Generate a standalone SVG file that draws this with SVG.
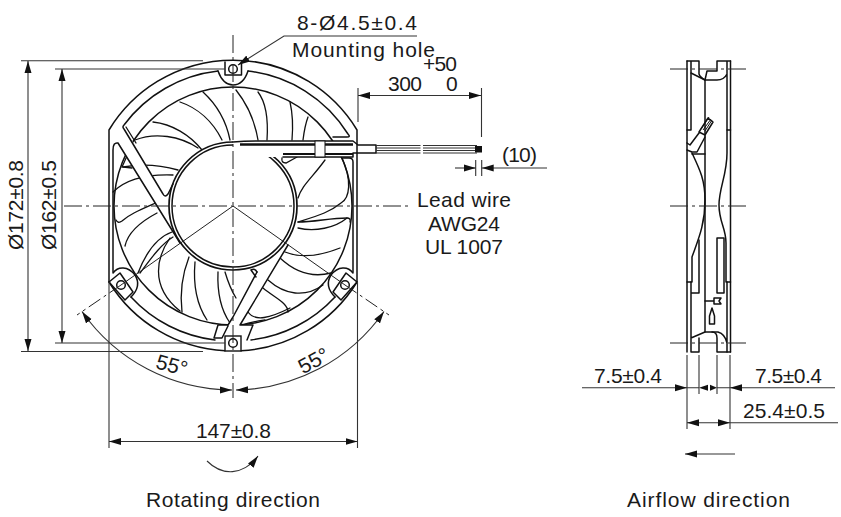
<svg xmlns="http://www.w3.org/2000/svg" width="841" height="517" viewBox="0 0 841 517">
<style>
text{font-family:"Liberation Sans",Arial,sans-serif;font-size:21px;fill:#1a1a1a}
.m{text-anchor:middle}
.o{fill:none;stroke:#111;stroke-width:1.5;stroke-linejoin:round;stroke-linecap:round}
.b{fill:none;stroke:#111;stroke-width:1.3;stroke-linecap:round}
.w{fill:#fff;stroke:none}
.t{fill:none;stroke:#222;stroke-width:1}
.d{fill:none;stroke:#333;stroke-width:1.1}
.c{fill:none;stroke:#222;stroke-width:1;stroke-dasharray:18 4 3 4}
.a{fill:none;stroke:#333;stroke-width:1.1;marker-end:url(#ah)}
.aa{fill:none;stroke:#333;stroke-width:1.1;marker-start:url(#ah);marker-end:url(#ah)}
.h{fill:#111;stroke:none}
</style>
<defs>
<marker id="ah" markerUnits="userSpaceOnUse" markerWidth="12" markerHeight="8" refX="12" refY="4" orient="auto-start-reverse"><path d="M0,0.500L12,4L0,7.500z" fill="#111"/></marker>
</defs>
<g id="front-view">
<circle cx="233" cy="206" r="119" class="o"/>
<g id="blades">
<path class="b" d="M203,92C215,103 226,120 230,140"/>
<path class="b" d="M236,90C248,105 255,122 258,140"/>
<path class="b" d="M258,92C268,105 268,125 267,140"/>
<path class="b" d="M290,102C293,115 293,128 292,140"/>
<path class="b" d="M308,117C305,125 304,132 303,140"/>
<path class="b" d="M153,122C172,124 190,135 202,150"/>
<path class="b" d="M180,102C198,108 213,122 222,140"/>
<path class="b" d="M135,140C155,132 180,136 198,148"/>
<path class="b" d="M127,156L122,167L132,168"/>
<path class="b" d="M123,167C140,164 160,165 178,170"/>
<path class="b" d="M113,192C125,180 145,174 173,175"/>
<path class="b" d="M116,220Q118,224 122,221C130,214 140,210 158,202"/>
<path class="b" d="M157,213C140,222 128,232 125,246"/>
<path class="b" d="M172,232C155,238 145,255 138,273"/>
<path class="b" d="M173,237C160,245 150,260 140,273"/>
<path class="b" d="M170,238C158,255 148,285 180,311"/>
<path class="b" d="M189,257C182,275 180,295 182,312"/>
<path class="b" d="M195,262C193,285 197,305 207,320"/>
<path class="b" d="M218,272C217,295 221,310 230,323"/>
<path class="b" d="M225,272C228,282 231,290 236,298"/>
<path class="b" d="M282,158Q281,163 286,163L297,157"/>
<path class="b" d="M325,160C312,178 302,185 298,198"/>
<path class="b" d="M342,158C352,180 350,198 341,203C330,212 320,215 298,222"/>
<path class="b" d="M298,222C315,222 330,218 347,218Q351,218 350,222"/>
<path class="b" d="M298,228C315,232 335,228 347,218"/>
<path class="b" d="M285,252C300,258 320,256 340,248"/>
<path class="b" d="M280,258C295,272 312,278 331,273"/>
<path class="b" d="M268,280C285,295 305,298 323,285"/>
<path class="b" d="M263,288C275,298 288,303 288,312"/>
<path class="b" d="M248,312C255,322 270,318 290,308"/>
<path class="b" d="M242,325C250,322 258,321 265,320"/>
</g>
<path class="w" d="M124,127L165,197L173,184L190,200L180,243L118,143z"/>
<path class="w" d="M257,272L233,317L228,325H218L214,338H252L253,325H240L288,245z"/>
<circle cx="233" cy="206" r="64" fill="#fff" stroke="#111" stroke-width="1.700"/>
<circle cx="233" cy="206" r="61" class="o"/>
<path class="o" d="M218,71A136,136 0 0 0 124,125Q122,127 124,129L163,194Q165,198 168,194L173,184"/>
<path class="b" d="M126,127L136,143"/>
<path class="o" d="M113,272V150Q113,142 118,143L180,243"/>
<path class="o" d="M109,282V130A145,145 0 0 1 357,130V282"/>
<path class="o" d="M353,162Q353,158 349,158H343M353,162V272"/>
<path class="o" d="M109,282A145,145 0 0 0 225,350.800M241,350.800A145,145 0 0 0 357,282"/>
<path class="o" d="M131,297A136,136 0 0 0 215,340M251,340A136,136 0 0 0 335,297"/>
<path class="o" d="M248,71A136,136 0 0 1 348,134Q351,137 347,137H333"/>
<path class="o" d="M257,272L233,317L228,325H218L214,338H222L228,326"/>
<path class="o" d="M257,272Q255,268 251,270L256,277"/>
<path class="o" d="M288,245L240,325H253L247,340"/>
</g>
<g id="hole-top">
<path class="o" fill="#fff" d="M218,71C222,82 228,85 233,85C240,85 245,80 248,71"/>
<path class="o" d="M225,75V62M241.500,75V62M225,75H241.500"/>
<circle cx="233" cy="69" r="4.300" class="o"/>
</g>
<g id="hole-bottom">
<rect x="225" y="336" width="16" height="15" fill="#fff" stroke="#111" stroke-width="1.400"/>
<circle cx="233" cy="343" r="4.300" class="o"/>
</g>
<g id="hole-left">
<path class="o" fill="#fff" d="M113,273C118,266 128,266 135,275C140,283 138,290 131,297"/>
<path class="o" fill="#fff" d="M109,282L125,300L133,292L120,273z"/>
<circle cx="121" cy="285" r="4.300" class="o"/>
</g>
<g id="hole-right">
<path class="o" fill="#fff" d="M353,273C348,266 338,266 331,275C326,283 328,290 335,297"/>
<path class="o" fill="#fff" d="M357,282L341,300L333,292L346,273z"/>
<circle cx="345" cy="285" r="4.300" class="o"/>
</g>
<g id="wire-channel">
<rect x="233" y="141" width="120" height="16" class="w"/>
<path class="o" d="M233,142Q245,141 260,141H353L358,145H376V153H353L353,157H283"/>
<path d="M240,144.500H353" stroke="#111" stroke-width="2.500"/>
<path d="M283,154H353" stroke="#111" stroke-width="2"/>
<rect x="315" y="141" width="10" height="16" fill="#fff" stroke="#111"/>
</g>
<g id="wire">
<path d="M376,145.500H420.500M423,145.500H477M376,148H420.500M423,148H477M376,150.500H420.500M423,150.500H477M376,153H420.500M423,153H477" stroke="#333" stroke-width="1.200"/>
<rect x="475" y="146" width="7" height="6.500" fill="#111"/>
</g>
<g id="side-view">
<path class="o" d="M687,61V352M730.500,61V352"/>
<path class="o" d="M687,61H699V74Q700,77 705,80M717,61H730.500M717,61V71H707L705,80H717Q724,80 727,74M691,61V130M727,61V130M687,130H691M727,130H730.500"/>
<path class="o" d="M705,80V332"/>
<path class="o" d="M691,73L705,80"/>
<path class="o" d="M727,130V153C727,175 719,188 719,205C719,222 726,228 726,243V282H730.500"/>
<path class="o" d="M692,153C700,170 705,180 705,200C705,225 698,240 692,257V282H687"/>
<path class="o" d="M699,240V293H691M717,238H724V293H717V238M691,282V352H699V338M717,352H730.500M717,352V338C717,334 716,332 712,332H705L691,338"/>
<path class="o" d="M712,332H718Q725,334 727,343V282M727,343V352"/>
<path class="o" d="M687,143L690,145L699,133M687,150L692,152H697L705,137M692,154H705M699,132L705,135M708,118L713,122L705,135L699,132z"/>
<path d="M701,129L709,117M703,130L711,119M705,131L712,120" stroke="#111" stroke-width="1"/>
<path class="o" stroke-width="1" d="M705,301H713M714,298H721L719,301L721,304H714z"/>
<path class="o" stroke-width="1" d="M712,308L714.500,316V324H709.500V316z"/>
</g>
<g id="connectors">
<path class="c" d="M233,35V398M64,206H410M670,69H747M670,206H747M670,343H747"/>
<path class="t" d="M233,206L121,285"/>
<path class="t" d="M233,206L345,285"/>
<path class="t" stroke-dasharray="14 4 3 4" d="M121,285L77,315M345,285L389,315"/>
<path class="d" d="M21,60.700H203M55,69H225M55,343H225M21,351.500H203"/>
<path class="aa" d="M28,61V351"/>
<path class="aa" d="M62,69V343"/>
<path class="a" d="M417,36H284L238,65"/>
<path class="d" d="M358,88V122M481.500,88V137"/>
<path class="aa" d="M358,95.500H481"/>
<path class="d" d="M475.700,160V176M481.700,160V176"/>
<path class="a" d="M455,168H475.700"/>
<path class="a" d="M547,168H481.700"/>
<path class="d" d="M109,282V448M357.500,282V448"/>
<path class="aa" d="M109,441.500H357.500"/>
<path class="a" d="M82,311.500A184,184 0 0 0 232,390" style="marker-start:url(#ah)"/>
<path class="a" d="M384,311.500A184,184 0 0 1 236,390" style="marker-start:url(#ah)"/>
<path class="a" d="M207,461C222,476 243,476 258,456"/>
<path class="d" d="M687,355V429M730,355V429M699,355V394M717,355V394"/>
<path class="a" d="M582,387.700H687"/>
<path class="d" d="M687,387.700H699M717,387.700H730"/>
<path class="h" d="M699,387.700L708,384.700V390.700z"/>
<path class="h" d="M717,387.700L710,384.700V390.700z"/>
<path class="a" d="M835,387.700H730"/>
<path class="aa" d="M687,422.700H730"/>
<path class="d" d="M730,422.700H838"/>
<path class="a" d="M735,454H685"/>
</g>
<g id="labels">
<text x="297" y="30" textLength="120">8-Ø4.5±0.4</text>
<text x="292" y="57" textLength="143">Mounting hole</text>
<text x="423" y="71" textLength="34">+50</text>
<text x="388" y="91" textLength="34">300</text>
<text x="446" y="91" textLength="11">0</text>
<text x="502" y="162" textLength="35">(10)</text>
<text x="417" y="207" textLength="94">Lead wire</text>
<text x="428" y="231" textLength="72">AWG24</text>
<text x="425" y="254" textLength="78">UL 1007</text>
<text transform="translate(23,250) rotate(-90)" textLength="90">Ø172±0.8</text>
<text transform="translate(56,250) rotate(-90)" textLength="90">Ø162±0.5</text>
<text transform="translate(170,372) rotate(15)" class="m">55°</text>
<text transform="translate(317,367) rotate(-28)" class="m">55°</text>
<text x="196" y="438" textLength="75">147±0.8</text>
<text x="594" y="383" textLength="68">7.5±0.4</text>
<text x="755" y="383" textLength="67">7.5±0.4</text>
<text x="743" y="418" textLength="82">25.4±0.5</text>
<text x="146" y="507" textLength="174">Rotating direction</text>
<text x="627" y="507" textLength="163">Airflow direction</text>
</g>
</svg>
